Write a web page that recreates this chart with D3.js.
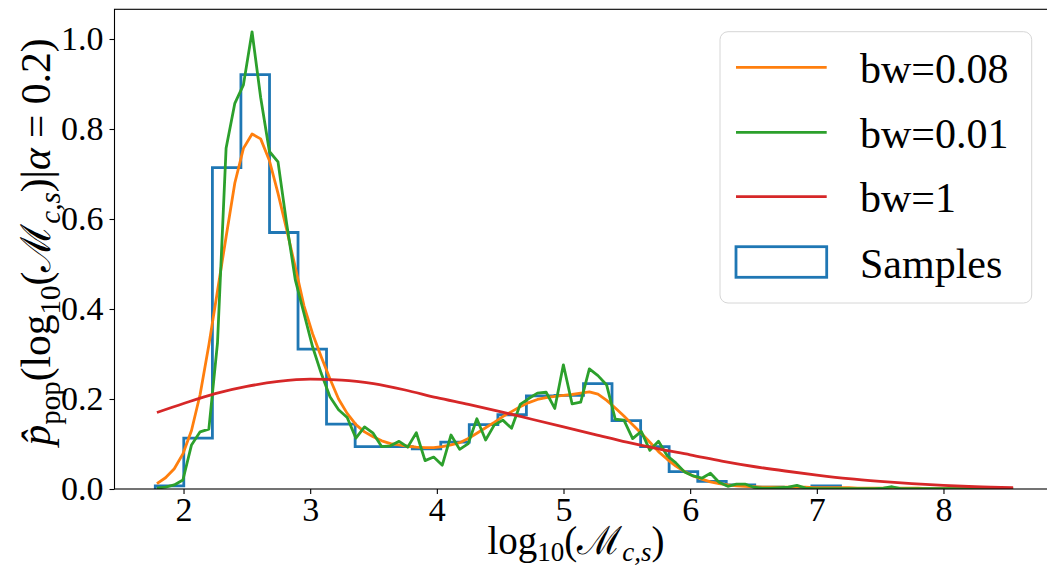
<!DOCTYPE html>
<html>
<head>
<meta charset="utf-8">
<script src="https://cdn.jsdelivr.net/npm/d3@7"></script>
<style>
  html, body { margin: 0; padding: 0; background: #fff; }
  svg { display: block; }
  text { font-family: "Liberation Serif", "DejaVu Serif", serif; fill: #000; }
</style>
</head>
<body>
<div id="chart"></div>
<script>
// ---------------- data ----------------
const xTicks = [2, 3, 4, 5, 6, 7, 8];
const yTicks = [0.0, 0.2, 0.4, 0.6, 0.8, 1.0];

const binEdges = [1.777, 2.002, 2.228, 2.453, 2.679, 2.904, 3.129, 3.355, 3.580, 3.806,
  4.031, 4.256, 4.482, 4.707, 4.933, 5.158, 5.383, 5.609, 5.834, 6.060,
  6.285, 6.510, 6.736, 6.961, 7.187, 7.412, 7.637, 7.863, 8.088, 8.314, 8.539];
const sampleDensity = [0.007, 0.113, 0.714, 0.921, 0.570, 0.311, 0.144, 0.094, 0.094, 0.089,
  0.104, 0.143, 0.165, 0.207, 0.208, 0.234, 0.152, 0.094, 0.0385, 0.017,
  0.009, 0.004, 0.003, 0.0067, 0, 0, 0, 0, 0, 0];

const kdeGrid = [1.790, 1.858, 1.927, 1.995, 2.063, 2.131, 2.200, 2.268, 2.336, 2.405,
  2.473, 2.541, 2.609, 2.678, 2.746, 2.814, 2.883, 2.951, 3.019, 3.087,
  3.156, 3.224, 3.292, 3.361, 3.429, 3.497, 3.565, 3.634, 3.702, 3.770,
  3.838, 3.907, 3.975, 4.043, 4.112, 4.180, 4.248, 4.316, 4.385, 4.453,
  4.521, 4.590, 4.658, 4.726, 4.794, 4.863, 4.931, 4.999, 5.068, 5.136,
  5.204, 5.272, 5.341, 5.409, 5.477, 5.546, 5.614, 5.682, 5.750, 5.819,
  5.887, 5.955, 6.024, 6.092, 6.160, 6.228, 6.297, 6.365, 6.433, 6.501,
  6.570, 6.638, 6.706, 6.775, 6.843, 6.911, 6.979, 7.048, 7.116, 7.184,
  7.253, 7.321, 7.389, 7.457, 7.526, 7.594, 7.662, 7.731, 7.799, 7.867,
  7.935, 8.004, 8.072, 8.140, 8.208, 8.277, 8.345, 8.413, 8.482, 8.550];

const kdeBw008 = [0.012, 0.025, 0.045, 0.078, 0.130, 0.210, 0.320, 0.440, 0.560, 0.680,
  0.757, 0.789, 0.778, 0.730, 0.657, 0.577, 0.492, 0.407, 0.345, 0.294,
  0.245, 0.200, 0.168, 0.143, 0.127, 0.116, 0.107, 0.101, 0.098, 0.095,
  0.093, 0.092, 0.092, 0.094, 0.098, 0.103, 0.112, 0.124, 0.136, 0.148,
  0.161, 0.172, 0.183, 0.192, 0.199, 0.203, 0.206, 0.208, 0.210, 0.213,
  0.216, 0.211, 0.197, 0.180, 0.162, 0.143, 0.124, 0.104, 0.083, 0.066,
  0.051, 0.039, 0.029, 0.022, 0.016, 0.012, 0.009, 0.007, 0.006, 0.005,
  0.004, 0.004, 0.004, 0.004, 0.004, 0.004, 0.003, 0.003, 0.003, 0.003,
  0.003, 0.002, 0.002, 0.002, 0.002, 0.002, 0.002, 0.002, 0.002, 0.001,
  0.001, 0.001, 0.001, 0.001, 0.001, 0.001, 0.001, 0.001, 0.001, 0.001];

const kdeBw001 = [0.002, 0.004, 0.009, 0.020, 0.098, 0.127, 0.133, 0.324, 0.757, 0.857,
  0.898, 1.016, 0.870, 0.750, 0.727, 0.590, 0.464, 0.390, 0.316, 0.257,
  0.205, 0.176, 0.159, 0.113, 0.138, 0.124, 0.094, 0.096, 0.106, 0.093,
  0.125, 0.063, 0.071, 0.053, 0.120, 0.088, 0.101, 0.156, 0.109, 0.142,
  0.153, 0.135, 0.188, 0.201, 0.213, 0.215, 0.179, 0.276, 0.189, 0.193,
  0.267, 0.252, 0.231, 0.155, 0.153, 0.112, 0.128, 0.086, 0.106, 0.074,
  0.058, 0.038, 0.029, 0.024, 0.035, 0.015, 0.006, 0.011, 0.011, 0.004,
  0.002, 0.002, 0.003, 0.004, 0.008, 0.002, 0.001, 0.001, 0.001, 0.001,
  0.001, 0.001, 0.001, 0.001, 0.002, 0.005, 0.001, 0.001, 0.001, 0.001,
  0.001, 0.001, 0.001, 0.001, 0.001, 0.001, 0.001, 0.001, 0.001, 0.001];

const bw1X = [1.79, 2.0, 2.25, 2.5, 2.75, 3.0, 3.25, 3.5, 3.75, 4.0, 4.25, 4.5, 4.75, 5.0,
  5.25, 5.5, 5.75, 6.0, 6.25, 6.5, 6.75, 7.0, 7.25, 7.5, 7.75, 8.0, 8.25, 8.55];
const kdeBw1 = [0.170, 0.190, 0.212, 0.228, 0.239, 0.244, 0.242, 0.234, 0.220, 0.203, 0.188, 0.172, 0.155, 0.138,
  0.121, 0.104, 0.089, 0.076, 0.062, 0.050, 0.040, 0.031, 0.023, 0.017, 0.012, 0.008, 0.005, 0.003];

const legendLabels = ["bw=0.08", "bw=0.01", "bw=1", "Samples"];
const colors = { bw008: "#ff7f0e", bw001: "#2ca02c", bw1: "#d62728", hist: "#1f77b4" };

// ---------------- layout ----------------
const W = 1047, H = 569;
const plot = { left: 114.5, right: 1056.2, top: 9.3, bottom: 489 };

const svg = d3.select("#chart").append("svg")
  .attr("width", W).attr("height", H).attr("viewBox", `0 0 ${W} ${H}`);
svg.append("rect").attr("width", W).attr("height", H).attr("fill", "#fff");

const x = d3.scaleLinear().domain([1.455, 8.89]).range([plot.left, plot.right]);
const y = d3.scaleLinear().domain([0, 1.066]).range([plot.bottom, plot.top]);

svg.append("clipPath").attr("id", "clip").append("rect")
  .attr("x", plot.left).attr("y", plot.top)
  .attr("width", plot.right - plot.left).attr("height", plot.bottom - plot.top);

const g = svg.append("g").attr("clip-path", "url(#clip)");
const LW = 2.8;

// histogram (step outline)
const stepPts = [[binEdges[0], 0]];
sampleDensity.forEach((v, i) => { stepPts.push([binEdges[i], v]); stepPts.push([binEdges[i + 1], v]); });
stepPts.push([binEdges[binEdges.length - 1], 0]);
g.append("path")
  .attr("d", d3.line().x(d => x(d[0])).y(d => y(d[1]))(stepPts))
  .attr("fill", "none").attr("stroke", colors.hist).attr("stroke-width", LW)
  .attr("stroke-linejoin", "miter");

const lineGrid = d3.line().x((d, i) => x(kdeGrid[i])).y(d => y(d));
g.append("path").attr("d", lineGrid(kdeBw008))
  .attr("fill", "none").attr("stroke", colors.bw008).attr("stroke-width", LW).attr("stroke-linejoin", "round");
g.append("path").attr("d", lineGrid(kdeBw001))
  .attr("fill", "none").attr("stroke", colors.bw001).attr("stroke-width", LW).attr("stroke-linejoin", "round");
g.append("path")
  .attr("d", d3.line().x((d, i) => x(bw1X[i])).y(d => y(d)).curve(d3.curveMonotoneX)(kdeBw1))
  .attr("fill", "none").attr("stroke", colors.bw1).attr("stroke-width", LW);

// axes
const tickFont = 34;
const xAxis = svg.append("g").attr("transform", `translate(0,${plot.bottom})`)
  .call(d3.axisBottom(x).tickValues(xTicks).tickSize(5).tickPadding(3).tickFormat(d3.format("d")));
const yAxis = svg.append("g").attr("transform", `translate(${plot.left},0)`)
  .call(d3.axisLeft(y).tickValues(yTicks).tickSize(5).tickPadding(6).tickFormat(d3.format(".1f")));
[xAxis, yAxis].forEach(a => {
  a.select(".domain").remove();
  a.selectAll(".tick line").attr("stroke", "#000").attr("stroke-width", 1.1);
  a.selectAll(".tick text").attr("font-size", tickFont)
    .attr("font-family", "Liberation Serif, DejaVu Serif, serif").attr("fill", "#000");
});

// spines
svg.append("rect")
  .attr("x", plot.left).attr("y", plot.top)
  .attr("width", plot.right - plot.left).attr("height", plot.bottom - plot.top)
  .attr("fill", "none").attr("stroke", "#000").attr("stroke-width", 1.1);

// axis labels
function addMath(t, parts, LF, SF, SD) {
  parts.forEach(p => {
    const ts = t.append("tspan").text(p.t).attr("font-size", p.sub ? SF : LF);
    if (p.it) ts.attr("font-style", "italic");
    if (p.dy) ts.attr("dy", p.dy * SD);
    if (p.ff) ts.attr("font-family", p.ff);
  });
}
const xl = svg.append("text").attr("x", 576).attr("y", 554).attr("text-anchor", "middle");
addMath(xl, [
  { t: "log" }, { t: "10", sub: true, dy: 1 }, { t: "(", dy: -1 },
  { t: "\u2133", ff: "DejaVu Serif" }, { t: "c,s", sub: true, it: true, dy: 1 }, { t: ")", dy: -1 }
], 39, 27, 7);

const yl = svg.append("text").attr("text-anchor", "middle")
  .attr("transform", "translate(50,242) rotate(-90)");
addMath(yl, [
  { t: "p\u0302", it: true }, { t: "pop", sub: true, dy: 1 }, { t: "(log", dy: -1 },
  { t: "10", sub: true, dy: 1 }, { t: "(", dy: -1 },
  { t: "\u2133", ff: "DejaVu Serif" }, { t: "c,s", sub: true, it: true, dy: 1 },
  { t: ")|", dy: -1 }, { t: "\u03b1", it: true }, { t: " = 0.2)" }
], 41.5, 29, 10);

// legend
const lg = svg.append("g");
lg.append("rect").attr("x", 720).attr("y", 31.7).attr("width", 311.7).attr("height", 271.3)
  .attr("rx", 8).attr("fill", "#fff").attr("fill-opacity", 0.8)
  .attr("stroke", "#d6d6d6").attr("stroke-width", 1);
const rowY = [67.3, 132.3, 196.7, 262];
const legColors = [colors.bw008, colors.bw001, colors.bw1, colors.hist];
legendLabels.forEach((lab, i) => {
  if (i < 3) {
    lg.append("line").attr("x1", 736).attr("x2", 826.7).attr("y1", rowY[i]).attr("y2", rowY[i])
      .attr("stroke", legColors[i]).attr("stroke-width", LW);
  } else {
    lg.append("rect").attr("x", 736).attr("y", 246.7).attr("width", 90.7).attr("height", 30.6)
      .attr("fill", "none").attr("stroke", legColors[i]).attr("stroke-width", LW);
  }
  lg.append("text").attr("x", 860).attr("y", rowY[i] + 15.5).attr("font-size", 42).text(lab);
});
</script>
</body>
</html>
